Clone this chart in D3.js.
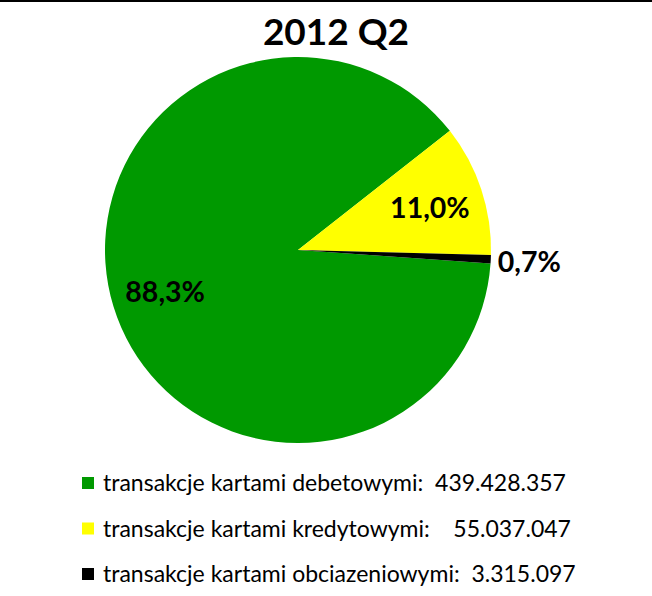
<!DOCTYPE html>
<html>
<head>
<meta charset="utf-8">
<script src="https://cdn.jsdelivr.net/npm/d3@7"></script>
<style>
	body { margin: 0; background: #fff; }
	svg { display: block; }
</style>
</head>
<body>
<div id="chart"></div>
<script>
const title = '2012 Q2';
const categories = ['transakcje kartami debetowymi', 'transakcje kartami kredytowymi', 'transakcje kartami obciazeniowymi'];
const shares = [88.3, 11.0, 0.7];
const amounts = [439428357, 55037047, 3315097];
const gaps = ['  ', '    ', '  '];
const colors = ['#009900', '#ffff00', '#000000'];

const widthSvg = 652;
const heightSvg = 596;
const center = {x: 298, y: 250};
const radius = 193;

const plFormat = d3.formatLocale({decimal: ',', thousands: '.', grouping: [3], currency: ['', '']});
const fmtAmount = plFormat.format(',d');
const fmtShare = plFormat.format('.1f');

const svg = d3.select('#chart').append('svg')
	.attr('width', widthSvg)
	.attr('height', heightSvg);

// top border
svg.append('line')
	.attr('x1', 0).attr('x2', widthSvg)
	.attr('y1', 1).attr('y2', 1)
	.style('stroke', '#000')
	.style('stroke-width', 2);

svg.append('text')
	.attr('x', 336)
	.attr('y', 45)
	.attr('text-anchor', 'middle')
	.style('font-family', 'Lato, sans-serif')
	.style('font-weight', 'bold')
	.style('font-size', '37px')
	.text(title);

const startAngle = 94 * Math.PI / 180;
const pie = d3.pie().sort(null)
	.startAngle(startAngle)
	.endAngle(startAngle + 2 * Math.PI);
const slices = pie(shares);

const arc = d3.arc().innerRadius(0).outerRadius(radius);
const insideArc = d3.arc().innerRadius(radius * 0.72).outerRadius(radius * 0.72);
const outsideArc = d3.arc().innerRadius(radius * 1.2).outerRadius(radius * 1.2);

const g = svg.append('g')
	.attr('transform', `translate(${center.x},${center.y})`);

g.selectAll('path')
	.data(slices)
	.enter().append('path')
	.attr('d', arc)
	.style('fill', (d, i) => colors[i]);

g.selectAll('text')
	.data(slices)
	.enter().append('text')
	.attr('transform', (d, i) => {
		const c = (d.endAngle - d.startAngle < 0.1 ? outsideArc : insideArc).centroid(d);
		return `translate(${c[0]},${c[1]})`;
	})
	.attr('text-anchor', 'middle')
	.attr('dy', '0.4em')
	.style('font-family', 'Lato, sans-serif')
	.style('font-weight', 'bold')
	.style('font-size', '28.5px')
	.style('fill', '#000')
	.text(d => fmtShare(d.data) + '%');

// legend
const legendY = d3.scalePoint()
	.domain(categories)
	.range([483, 574]);

const legend = svg.append('g');
const rows = legend.selectAll('g')
	.data(categories)
	.enter().append('g')
	.attr('transform', d => `translate(82,${legendY(d)})`);

rows.append('rect')
	.attr('x', 0)
	.attr('y', -6)
	.attr('width', 12)
	.attr('height', 12)
	.style('fill', (d, i) => colors[i]);

rows.append('text')
	.attr('x', 21)
	.attr('dy', '0.35em')
	.attr('xml:space', 'preserve')
	.style('white-space', 'pre')
	.style('font-family', 'Lato, sans-serif')
	.style('font-size', '23px')
	.style('fill', '#000')
	.text((d, i) => `${d}:${gaps[i]}${fmtAmount(amounts[i])}`);
</script>
</body>
</html>
